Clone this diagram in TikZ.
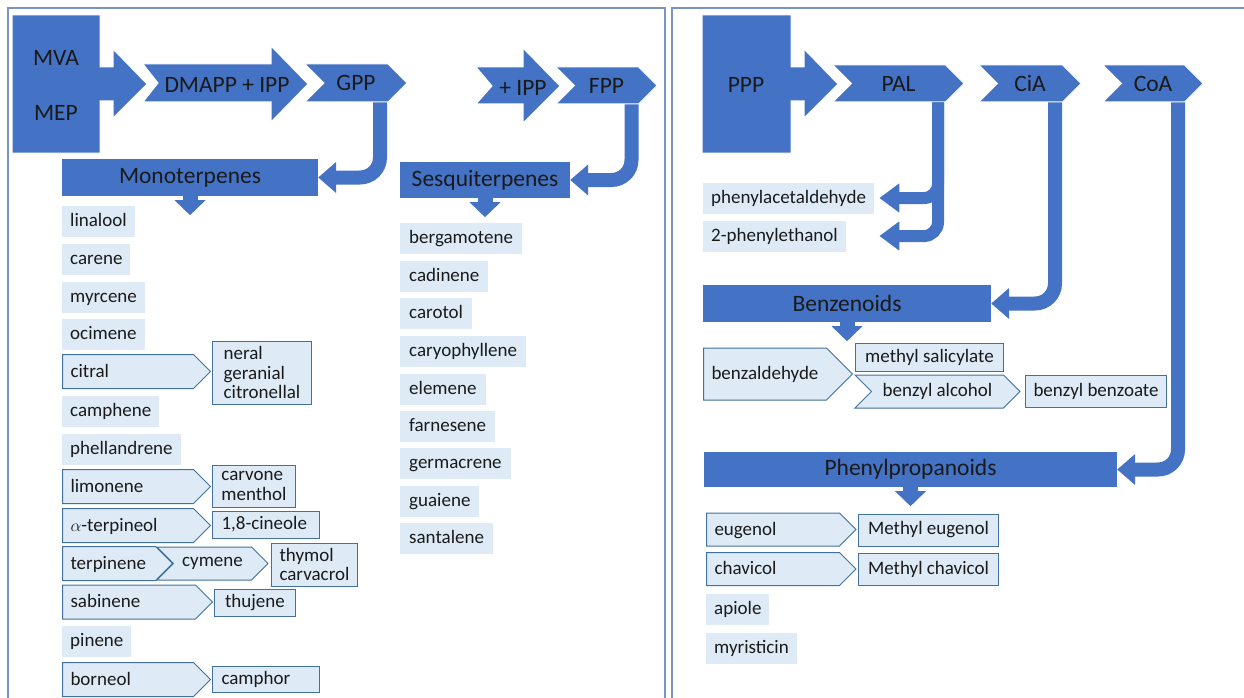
\documentclass[tikz,border=0pt]{standalone}
\usepackage{fontspec}
\setmainfont{Carlito}
\usetikzlibrary{shapes.symbols,arrows.meta}
\definecolor{fillblue}{HTML}{4472C4}
\definecolor{paleblue}{HTML}{DEEBF7}
\definecolor{edgeblue}{HTML}{41719C}
\definecolor{framegray}{HTML}{7A93C4}
\definecolor{inkblack}{HTML}{1A1A1A}
\begin{document}
\begin{tikzpicture}[x=1pt,y=-1pt,
  big/.style={font=\fontsize{23.5}{26}\selectfont,text=inkblack},
  small/.style={font=\fontsize{19}{19.5}\selectfont,text=inkblack},
  bar/.style={big,fill=fillblue,inner sep=0pt},
  chev/.style={big,signal,signal from=west,signal to=east,signal pointer angle=90,fill=fillblue,draw=white,line width=1pt,inner sep=0pt},
  lchev/.style={small,signal,signal from=west,signal to=east,signal pointer angle=90,fill=paleblue,draw=edgeblue,line width=1pt,inner sep=0pt},
  item/.style={small,fill=paleblue,anchor=west,inner xsep=8pt,inner ysep=7pt,text height=14pt,text depth=3pt},
  sig/.style={small,signal,signal to=east,signal pointer angle=90,fill=paleblue,draw=edgeblue,line width=1pt,anchor=west,align=left,inner xsep=8pt,inner ysep=8.5pt,text height=14pt,text depth=3pt},
  res/.style={small,fill=paleblue,draw=edgeblue,line width=1pt,anchor=west,align=left,inner xsep=8pt,inner ysep=2pt},
  bendarrow/.style={draw=fillblue,line width=14pt,rounded corners=20pt,-{Triangle[width=30pt,length=18pt]}},
  twigarrow/.style={draw=fillblue,line width=12pt,rounded corners=14pt,-{Triangle[width=28pt,length=20pt]}},
  droparrow/.style={draw=fillblue,line width=15pt,-{Triangle[width=30pt,length=15pt]}},
  panelframe/.style={draw=framegray,line width=1.5pt}]
\useasboundingbox (0,0) rectangle (1244,698);
% panels
\draw[panelframe] (8,710) -- (8,8) -- (665,8) -- (665,710);
\draw[panelframe] (672,710) -- (672,8) -- (1260,8);
% block arrows
\fill[fillblue,draw=white,line width=1pt] (12,15) -- (100,15) -- (100,67) -- (113,67) -- (113,49) -- (147,84) -- (113,118) -- (113,101) -- (100,101) -- (100,153) -- (12,153) -- cycle;
\fill[fillblue,draw=white,line width=1pt] (143,64) -- (271,64) -- (271,46) -- (308,84) -- (271,122) -- (271,102) -- (143,102) -- (158,83) -- cycle;
\fill[fillblue,draw=white,line width=1pt] (476,67) -- (523,67) -- (523,48) -- (560,86) -- (523,123) -- (523,104) -- (476,104) -- (492,86) -- cycle;
\fill[fillblue,draw=white,line width=1pt] (702,15) -- (791,15) -- (791,67) -- (804,67) -- (804,49) -- (838,84) -- (804,118) -- (804,101) -- (791,101) -- (791,153) -- (702,153) -- cycle;

% left panel
\node at (56,58) [big] (mva) {MVA};
\node at (56,113) [big] (mep) {MEP};
\node at (227,85) [big] (dmapp) {DMAPP + IPP};
\node at (356,83) [chev,minimum width=102pt,minimum height=38pt] (gpp) {GPP};
\node at (523,88) [big] (ipp) {+ IPP};
\node at (606.5,85.5) [chev,minimum width=101pt,minimum height=37pt] (fpp) {FPP};
\node at (190,177.5) [bar,minimum width=256pt,minimum height=37pt] (mono) {Monoterpenes};
\node at (485,180) [bar,minimum width=170pt,minimum height=36pt] (sesq) {Sesquiterpenes};
\draw[bendarrow] ([xshift=24pt]gpp.south) |- (mono.east);
\draw[bendarrow] ([xshift=25pt]fpp.south) |- (sesq.east);
\draw[droparrow] (mono.south) -- ++(0,19);
\draw[droparrow] (sesq.south) -- ++(0,19);

\node at (62,221) [item] (linalool) {linalool};
\node at (62,259) [item] (carene) {carene};
\node at (62,297) [item] (myrcene) {myrcene};
\node at (62,334) [item] (ocimene) {ocimene};
\node at (62,371.5) [sig,text width=115pt] (citral) {citral};
\node at (62,411) [item] (camphene) {camphene};
\node at (62,449) [item] (phellandrene) {phellandrene};
\node at (62,486.5) [sig,text width=115pt] (limonene) {limonene};
\node at (62,525.5) [sig,text width=115pt] (aterpineol) {$\alpha$-terpineol};
\node at (62,563.5) [sig,text width=77pt] (terpinene) {terpinene};
\node at (212.5,563.5) [lchev,minimum width=111pt,minimum height=33pt] (cymene) {cymene};
\node at (62,602) [sig,text width=117pt] (sabinene) {sabinene};
\node at (62,641) [item] (pinene) {pinene};
\node at (62,679.5) [sig,text width=115pt] (borneol) {borneol};

\node at (212,372.5) [res,minimum width=99pt,minimum height=63pt] (neral) {neral\\geranial\\citronellal};
\node at (212,486) [res,minimum width=83pt,minimum height=42pt] (carvone) {carvone\\menthol};
\node at (212,524.5) [res,text width=89pt,inner xsep=9pt,minimum height=27pt] (cineole) {1,8-cineole};
\node at (271,564.5) [res,minimum width=83pt,minimum height=43pt] (thymol) {thymol\\carvacrol};
\node at (214,602.5) [res,minimum width=81pt,minimum height=27pt] (thujene) {thujene};
\node at (212,679) [res,text width=89pt,inner xsep=9pt,minimum height=26pt] (camphor) {camphor};

\node at (400,238) [item,inner xsep=9pt] (bergamotene) {bergamotene};
\node at (400,276) [item,inner xsep=9pt] (cadinene) {cadinene};
\node at (400,313) [item,inner xsep=9pt] (carotol) {carotol};
\node at (400,351) [item,inner xsep=9pt] (caryophyllene) {caryophyllene};
\node at (400,389) [item,inner xsep=9pt] (elemene) {elemene};
\node at (400,426) [item,inner xsep=9pt] (farnesene) {farnesene};
\node at (400,463) [item,inner xsep=9pt] (germacrene) {germacrene};
\node at (400,501) [item,inner xsep=9pt] (guaiene) {guaiene};
\node at (400,538) [item,inner xsep=9pt] (santalene) {santalene};

% right panel
\node at (746,85) [big] (ppp) {PPP};
\node at (898.5,83.5) [chev,minimum width=131pt,minimum height=37pt] (pal) {PAL};
\node at (1030,83.5) [chev,minimum width=102pt,minimum height=37pt] (cia) {CiA};
\node at (1153,83.5) [chev,minimum width=100pt,minimum height=37pt] (coa) {CoA};

\node at (703,198) [item] (phacet) {phenylacetaldehyde};
\node at (703,236) [item] (phetoh) {2-phenylethanol};
\coordinate (acettip) at ([xshift=5pt]phacet.east);
\draw[twigarrow] ([xshift=39.5pt]pal.south) |- (acettip);
\draw[twigarrow] ([xshift=39.5pt]pal.south) |- (acettip |- phetoh.east);

\node at (847,303.5) [bar,minimum width=288pt,minimum height=37pt] (benz) {Benzenoids};
\draw[bendarrow] ([xshift=25pt]cia.south) |- (benz.east);
\draw[droparrow] (benz.south) -- ++(0,19);
\node at (703,374) [sig,text width=107pt,inner ysep=17.5pt] (benzald) {benzaldehyde};
\node at (855,357) [res,minimum width=148pt,minimum height=28pt] (mesal) {methyl salicylate};
\node at (937.5,391.5) [lchev,minimum width=165pt,minimum height=33pt] (bzalc) {benzyl alcohol};
\node at (1025,391) [res,minimum width=139pt,minimum height=32pt] (bzbenz) {benzyl benzoate};

\node at (910.5,469.5) [bar,minimum width=413pt,minimum height=35pt] (phen) {Phenylpropanoids};
\draw[bendarrow] ([xshift=25pt]coa.south) |- (phen.east);
\draw[droparrow] (phen.south) -- ++(0,19);
\node at (706,529.5) [sig,text width=117pt,inner ysep=8pt] (eugenol) {eugenol};
\node at (858,530) [res,minimum width=140pt,minimum height=32pt] (meeug) {Methyl eugenol};
\node at (706,569) [sig,text width=117pt,inner ysep=8pt] (chavicol) {chavicol};
\node at (858,569) [res,minimum width=140pt,minimum height=32pt] (mechav) {Methyl chavicol};
\node at (706,609) [item] (apiole) {apiole};
\node at (706,648) [item] (myristicin) {myristicin};
\end{tikzpicture}
\end{document}
